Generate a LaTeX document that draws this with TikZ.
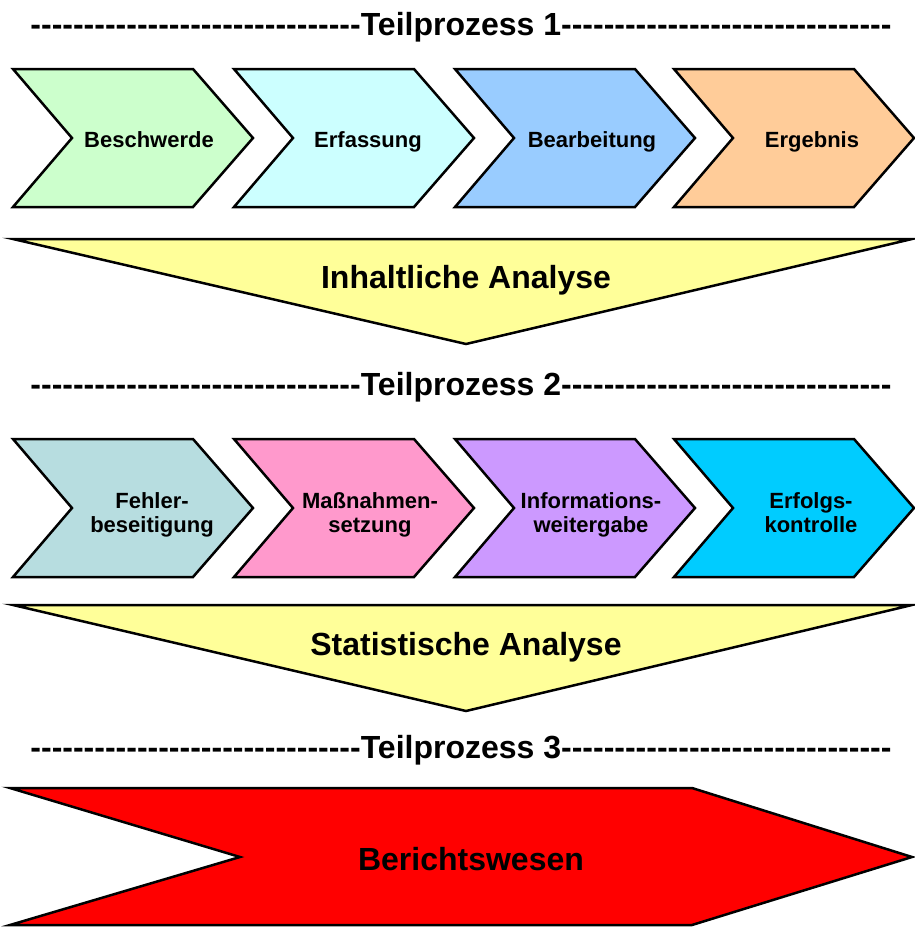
\documentclass[tikz,border=0pt]{standalone}
\usepackage{fontspec}
\setmainfont{Liberation Sans}
\newcommand\hyphenrun[1]{\foreach\x in {1,...,#1}{-}}
\definecolor{cGreen}{RGB}{204,255,204}
\definecolor{cCyan}{RGB}{204,255,255}
\definecolor{cBlue}{RGB}{153,204,255}
\definecolor{cOrange}{RGB}{255,204,153}
\definecolor{cYellow}{RGB}{255,255,153}
\definecolor{cTeal}{RGB}{183,221,224}
\definecolor{cPink}{RGB}{255,153,204}
\definecolor{cViolet}{RGB}{204,153,255}
\definecolor{cSky}{RGB}{0,204,255}
\definecolor{cRed}{RGB}{255,0,0}
\begin{document}
\begin{tikzpicture}[x=1pt,y=-1pt,
  box/.style={draw=black, line width=2.5pt, line join=miter},
  chev/.style 2 args={insert path={(#1,#2) -- ++(180,0) -- ++(60,69) -- ++(-60,69) -- ++(-180,0) -- ++(59,-69) -- cycle}},
  lbl/.style={font=\fontsize{22}{24.5}\selectfont\bfseries, align=center, inner sep=0pt},
  twoline/.style={lbl, text depth=5pt},
  big/.style={font=\fontsize{32}{36}\selectfont\bfseries, inner sep=0pt, anchor=base}]
\useasboundingbox (0,0) rectangle (914,927);
\fill[white] (0,0) rectangle (914,927);

% Teilprozess 1
\node[big] (h1) at (461,35) {\hyphenrun{31}Teilprozess 1\hyphenrun{31}};
\draw[box, fill=cGreen, chev={13}{69}];
\draw[box, fill=cCyan, chev={234}{69}];
\draw[box, fill=cBlue, chev={455}{69}];
\draw[box, fill=cOrange, chev={674}{69}];
\node[lbl, anchor=base] (a1) at (149,147) {Beschwerde};
\node[lbl, anchor=base] (a2) at (368,147) {Erfassung};
\node[lbl, anchor=base] (a3) at (592,147) {Bearbeitung};
\node[lbl, anchor=base] (a4) at (812,147) {Ergebnis};

% Inhaltliche Analyse
\draw[box, fill=cYellow] (13,239) -- (912,239) -- (466,344) -- cycle;
\node[big] (t1) at (466,288) {Inhaltliche Analyse};

% Teilprozess 2
\node[big] (h2) at (461,395) {\hyphenrun{31}Teilprozess 2\hyphenrun{31}};
\draw[box, fill=cTeal, chev={13}{439}];
\draw[box, fill=cPink, chev={234}{439}];
\draw[box, fill=cViolet, chev={455}{439}];
\draw[box, fill=cSky, chev={674}{439}];
\node[twoline] (b1) at (152,515) {Fehler-\\beseitigung};
\node[twoline] (b2) at (370,515) {Maßnahmen-\\setzung};
\node[twoline] (b3) at (591,515) {Informations-\\weitergabe};
\node[twoline] (b4) at (811,515) {Erfolgs-\\kontrolle};

% Statistische Analyse
\draw[box, fill=cYellow] (13,605) -- (912,605) -- (466,711) -- cycle;
\node[big] (t2) at (466,655) {Statistische Analyse};

% Teilprozess 3
\node[big] (h3) at (461,758) {\hyphenrun{31}Teilprozess 3\hyphenrun{31}};
\draw[box, fill=cRed] (10,788) -- (692,788) -- (912,857) -- (692,925) -- (10,925) -- (240,857) -- cycle;
\node[big] (r1) at (471,870) {Berichtswesen};
\end{tikzpicture}
\end{document}
